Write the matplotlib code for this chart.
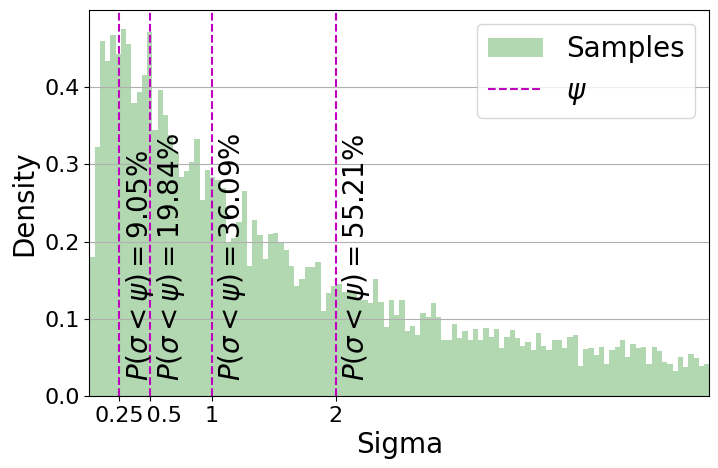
import numpy as np
import matplotlib.pyplot as plt

# histogram range and bar heights (density)
sigma_min, sigma_max = 0.008, 5.02
density = [
    0.180, 0.322, 0.460, 0.434, 0.468, 0.443, 0.476, 0.456, 0.379, 0.394,
    0.416, 0.471, 0.345, 0.396, 0.364, 0.338, 0.316, 0.284, 0.291, 0.303,
    0.333, 0.254, 0.293, 0.284, 0.280, 0.270, 0.200, 0.205, 0.226, 0.266,
    0.168, 0.228, 0.209, 0.178, 0.210, 0.211, 0.200, 0.189, 0.168, 0.143,
    0.152, 0.167, 0.167, 0.173, 0.110, 0.134, 0.143, 0.145, 0.135, 0.135,
    0.134, 0.124, 0.124, 0.120, 0.151, 0.122, 0.089, 0.125, 0.105, 0.124,
    0.084, 0.091, 0.079, 0.107, 0.103, 0.121, 0.103, 0.073, 0.073, 0.093,
    0.075, 0.084, 0.073, 0.087, 0.073, 0.088, 0.077, 0.087, 0.062, 0.076,
    0.086, 0.075, 0.065, 0.070, 0.059, 0.081, 0.065, 0.059, 0.073, 0.073,
    0.062, 0.076, 0.079, 0.039, 0.061, 0.062, 0.053, 0.064, 0.042, 0.060,
    0.064, 0.072, 0.051, 0.067, 0.062, 0.064, 0.042, 0.064, 0.058, 0.044,
    0.041, 0.033, 0.050, 0.038, 0.055, 0.049, 0.039, 0.042,
]

psi = [0.25, 0.5, 1, 2]
prob = ["9.05", "19.84", "36.09", "55.21"]
xtick_labels = ["0.25", "    0.5", "1", "2"]

edges = np.linspace(sigma_min, sigma_max, len(density) + 1)
centers = (edges[:-1] + edges[1:]) / 2

fig = plt.figure(figsize=(7.18, 4.68), dpi=100)
ax = fig.add_axes([0.1244, 0.1538, 0.8635, 0.8248])

ax.hist(centers, bins=edges, weights=density, color="green", alpha=0.3,
        label="Samples")

for i, (p, pr) in enumerate(zip(psi, prob)):
    ax.axvline(p, color="m", linestyle="--", linewidth=1.5,
               label=r"$\psi$" if i == 0 else None)
    ax.text(p + 0.035, 0.02, r"$P(\sigma < \psi) = " + pr + r"\%$",
            rotation=90, ha="left", va="bottom", fontsize=20)

ax.set_xlim(sigma_min, sigma_max)
ax.set_ylim(0, 0.5)
ax.set_xticks(psi)
ax.set_xticklabels(xtick_labels)
ax.tick_params(labelsize=16)
ax.set_yticks([0.0, 0.1, 0.2, 0.3, 0.4])
ax.grid(axis="y")
ax.set_xlabel("Sigma", fontsize=20)
ax.set_ylabel("Density", fontsize=20)
ax.legend(fontsize=20, loc="upper right")

plt.savefig("out.png", dpi=100)
